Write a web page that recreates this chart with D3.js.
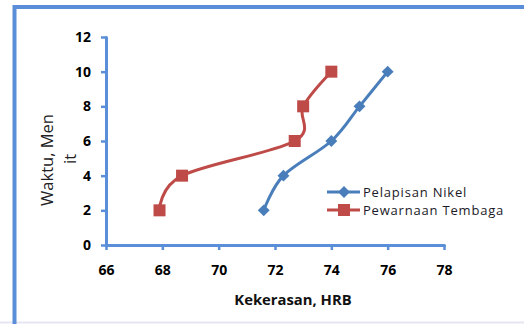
<!DOCTYPE html>
<html><head><meta charset="utf-8">
<script src="https://cdn.jsdelivr.net/npm/d3@7"></script>
<style>body{margin:0;background:#fff}svg{display:block}</style>
</head><body>
<script>
const yValues = [2, 4, 6, 8, 10];
const nikel = [71.6, 72.3, 74, 75, 76];
const tembaga = [67.9, 68.7, 72.7, 73.0, 74];
const seriesNames = ["Pelapisan Nikel", "Pewarnaan Tembaga"];
const xTicks = [66, 68, 70, 72, 74, 76, 78];
const yTicks = [0, 2, 4, 6, 8, 10, 12];

const W = 524, H = 324;
const svg = d3.select("body").append("svg").attr("width", W).attr("height", H);

// outer frame
svg.append("line").attr("x1", 0).attr("x2", W).attr("y1", 322.5).attr("y2", 322.5)
  .attr("stroke", "#e6e6f2").attr("stroke-width", 2);
svg.append("path").attr("d", `M14.5,${H}V7H${W+5}`)
  .attr("fill", "none").attr("stroke", "#5b8ed8").attr("stroke-width", 4);

const x = d3.scaleLinear().domain([66, 78]).range([106, 444]);
const y = d3.scaleLinear().domain([0, 12]).range([245, 37]);
const axisColor = "#5b8ed8";
const font = "'Open Sans', sans-serif";

const xAxis = svg.append("g").attr("transform", "translate(0,245)")
  .call(d3.axisBottom(x).tickValues(xTicks).tickSize(5).tickPadding(15).tickSizeOuter(0));
const yAxis = svg.append("g").attr("transform", "translate(106,0)")
  .call(d3.axisLeft(y).tickValues(yTicks).tickSize(5).tickPadding(10).tickSizeOuter(0));
[xAxis, yAxis].forEach(a => {
  a.select(".domain").attr("stroke", axisColor).attr("stroke-width", 3).attr("stroke-linecap", "round");
  a.selectAll(".tick line").attr("stroke", axisColor).attr("stroke-width", 2.5);
  a.selectAll(".tick text").attr("fill", "#000").attr("font-family", font)
    .attr("font-weight", "bold").attr("font-size", 14);
});

const line = d3.line().curve(d3.curveCatmullRom.alpha(0))
  .x(d => x(d[0])).y(d => y(d[1]));
const blue = "#4a7ebb", red = "#be4b48";
const dN = nikel.map((v, i) => [v, yValues[i]]);
const dT = tembaga.map((v, i) => [v, yValues[i]]);

svg.append("path").datum(dN).attr("d", line).attr("fill", "none").attr("stroke", blue).attr("stroke-width", 3);
svg.append("path").datum(dT).attr("d", line).attr("fill", "none").attr("stroke", red).attr("stroke-width", 3);

const diamond = d3.symbol().type(d3.symbolDiamond2).size(90);
svg.selectAll(".mn").data(dN).join("path")
  .attr("transform", d => `translate(${x(d[0])},${y(d[1])})`).attr("d", diamond).attr("fill", blue);
svg.selectAll(".mt").data(dT).join("rect")
  .attr("x", d => x(d[0]) - 6).attr("y", d => y(d[1]) - 6)
  .attr("width", 12).attr("height", 12).attr("fill", red);

// legend
const leg = svg.append("g");
[[blue, 192], [red, 210]].forEach((c, i) => {
  leg.append("line").attr("x1", 327).attr("x2", 360).attr("y1", c[1]).attr("y2", c[1])
    .attr("stroke", c[0]).attr("stroke-width", 3);
  if (i === 0) leg.append("path").attr("transform", `translate(344,${c[1]})`).attr("d", diamond).attr("fill", blue);
  else leg.append("rect").attr("x", 338).attr("y", c[1] - 6).attr("width", 12).attr("height", 12).attr("fill", red);
  leg.append("text").attr("x", 363).attr("y", c[1] + 5).text(seriesNames[i])
    .attr("font-family", font).attr("font-size", 13).attr("letter-spacing", 0.8).attr("fill", "#1a1a28");
});

// axis titles
svg.append("text").attr("x", 293).attr("y", 305).attr("text-anchor", "middle")
  .attr("font-family", font).attr("font-weight", "bold").attr("font-size", 14.8).attr("fill", "#111")
  .text("Kekerasan, HRB");
svg.append("text").attr("transform", "translate(53,160) rotate(-90)").attr("text-anchor", "middle")
  .attr("font-family", font).attr("font-size", 16.5).attr("fill", "#222").text("Waktu, Men");
svg.append("text").attr("transform", "translate(76,159) rotate(-90)").attr("text-anchor", "middle")
  .attr("font-family", font).attr("font-size", 16.5).attr("fill", "#222").text("it");
</script>
</body></html>
